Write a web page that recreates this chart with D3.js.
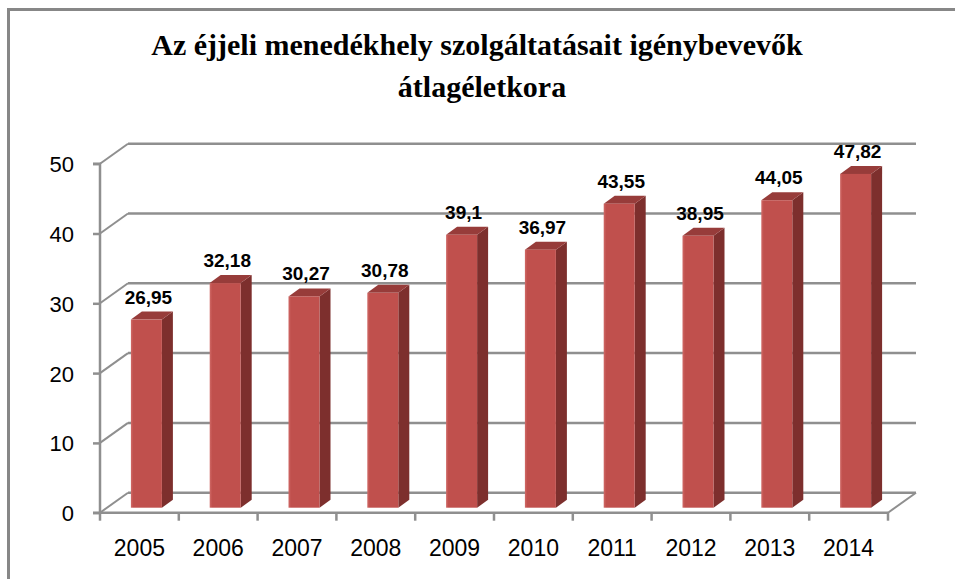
<!DOCTYPE html>
<html><head><meta charset="utf-8">
<script src="https://cdn.jsdelivr.net/npm/d3@7"></script>
<style>html,body{margin:0;padding:0;background:#fff;}svg{display:block;}</style>
</head><body>
<svg id="c" width="955" height="579"></svg>
<script>
const categories = ["2005","2006","2007","2008","2009","2010","2011","2012","2013","2014"];
const values = [26.95, 32.18, 30.27, 30.78, 39.1, 36.97, 43.55, 38.95, 44.05, 47.82];
const valueLabels = ["26,95","32,18","30,27","30,78","39,1","36,97","43,55","38,95","44,05","47,82"];
const yTicks = [0, 10, 20, 30, 40, 50];
const titleLines = ["Az éjjeli menedékhely szolgáltatásait igénybevevők", "átlagéletkora"];

const svg = d3.select("#c");
const DX = 28, DY = 20;          // 3D depth of walls
const barOff = 7, barOffY = 5;    // bar front offset into depth
const sideDX = 11, sideDY = 8;    // bar depth
const barW = 31;
const grid = "#8f8f8f";

svg.append("rect").attr("x",0).attr("y",0).attr("width",955).attr("height",579).attr("fill","#fff");
svg.append("rect").attr("x",8.5).attr("y",9.5).attr("width",1200).attr("height",1200)
  .attr("fill","none").attr("stroke","#878787").attr("stroke-width",3);

const x = d3.scaleBand().domain(categories).range([100, 888]).padding(0);
const y = d3.scaleLinear().domain([0, 50]).range([512.7, 163.7]);

// title
svg.append("g").selectAll("text").data(titleLines).join("text")
  .attr("x", (d,i)=> i===0 ? 477 : 482).attr("y",(d,i)=> 55 + i*42)
  .attr("text-anchor","middle")
  .attr("font-family","'Liberation Serif','Times New Roman',serif")
  .attr("font-weight","bold").attr("font-size",30).attr("fill","#000")
  .text(d=>d);

// walls / gridlines
const g = svg.append("g").attr("stroke", grid).attr("fill","none");
yTicks.forEach(t=>{
  const yy = y(t);
  g.append("line").attr("x1",100+DX).attr("x2",888+DX).attr("y1",yy-DY).attr("y2",yy-DY).attr("stroke-width",2.5);
  g.append("line").attr("x1",100).attr("x2",100+DX).attr("y1",yy).attr("y2",yy-DY).attr("stroke-width",2);
});
// floor
g.append("line").attr("x1",100).attr("x2",888).attr("y1",y(0)).attr("y2",y(0)).attr("stroke-width",2.5);
g.append("line").attr("x1",888).attr("x2",888+DX).attr("y1",y(0)).attr("y2",y(0)-DY).attr("stroke-width",2);

// y axis
const yAxis = d3.axisLeft(y).tickValues(yTicks).tickSize(7).tickPadding(20).tickFormat(d3.format("d"));
const ya = svg.append("g").attr("transform","translate(100,0)").call(yAxis);
ya.select(".domain").attr("stroke",grid).attr("stroke-width",2.5).attr("d", `M-7,${y(50)}H0V${y(0)}H-7`);
ya.selectAll(".tick line").attr("stroke",grid).attr("stroke-width",2.5);
ya.selectAll(".tick text").attr("font-family","'Liberation Sans',Arial,sans-serif").attr("font-size",22).attr("fill","#000").attr("dy","0.36em").attr("x",-26);

// x axis
const xt = d3.scaleLinear().domain([0, categories.length]).range([100, 888]);
const xa = svg.append("g").attr("transform",`translate(0,${y(0)})`);
xa.selectAll("line").data(d3.range(categories.length+1)).join("line")
  .attr("x1",d=>xt(d)).attr("x2",d=>xt(d)).attr("y1",0).attr("y2",8)
  .attr("stroke",grid).attr("stroke-width",2.5);
xa.selectAll("text").data(categories).join("text")
  .attr("x",d=>x(d)+x.bandwidth()/2).attr("y",43.5)
  .attr("text-anchor","middle").attr("font-family","'Liberation Sans',Arial,sans-serif")
  .attr("font-size",23).attr("fill","#000").text(d=>d);

// gradient for front
const defs = svg.append("defs");
const lg = defs.append("linearGradient").attr("id","fr").attr("x1","0").attr("x2","1").attr("y1","0").attr("y2","0");
lg.append("stop").attr("offset","0").attr("stop-color","#d06a67");
lg.append("stop").attr("offset","0.08").attr("stop-color","#c0504d");
lg.append("stop").attr("offset","1").attr("stop-color","#c0504d");

// bars
const data = categories.map((c,i)=>({c, v: values[i], lab: valueLabels[i]}));
const bars = svg.append("g").selectAll("g").data(data).join("g");
bars.each(function(d){
  const gg = d3.select(this);
  const x0 = x(d.c) + x.bandwidth()/2 + barOff - barW/2;
  const x1 = x0 + barW;
  const yb = y(0) - barOffY;
  const yt = y(d.v) - barOffY;
  gg.append("path").attr("fill","#7d2f2d")
    .attr("d", `M${x1},${yb}L${x1+sideDX},${yb-sideDY}L${x1+sideDX},${yt-sideDY}L${x1},${yt}Z`);
  gg.append("path").attr("fill","#973c3a")
    .attr("d", `M${x0},${yt}L${x0+sideDX},${yt-sideDY}L${x1+sideDX},${yt-sideDY}L${x1},${yt}Z`);
  gg.append("rect").attr("x",x0).attr("y",yt).attr("width",barW).attr("height",yb-yt).attr("fill","url(#fr)");
  gg.append("text").attr("x", x0 + barW/2 + 2).attr("y", y(d.v) - 21)
    .attr("text-anchor","middle").attr("font-family","'Liberation Sans',Arial,sans-serif")
    .attr("font-weight","bold").attr("font-size",19).attr("fill","#000").text(d.lab);
});
</script>
</body></html>
